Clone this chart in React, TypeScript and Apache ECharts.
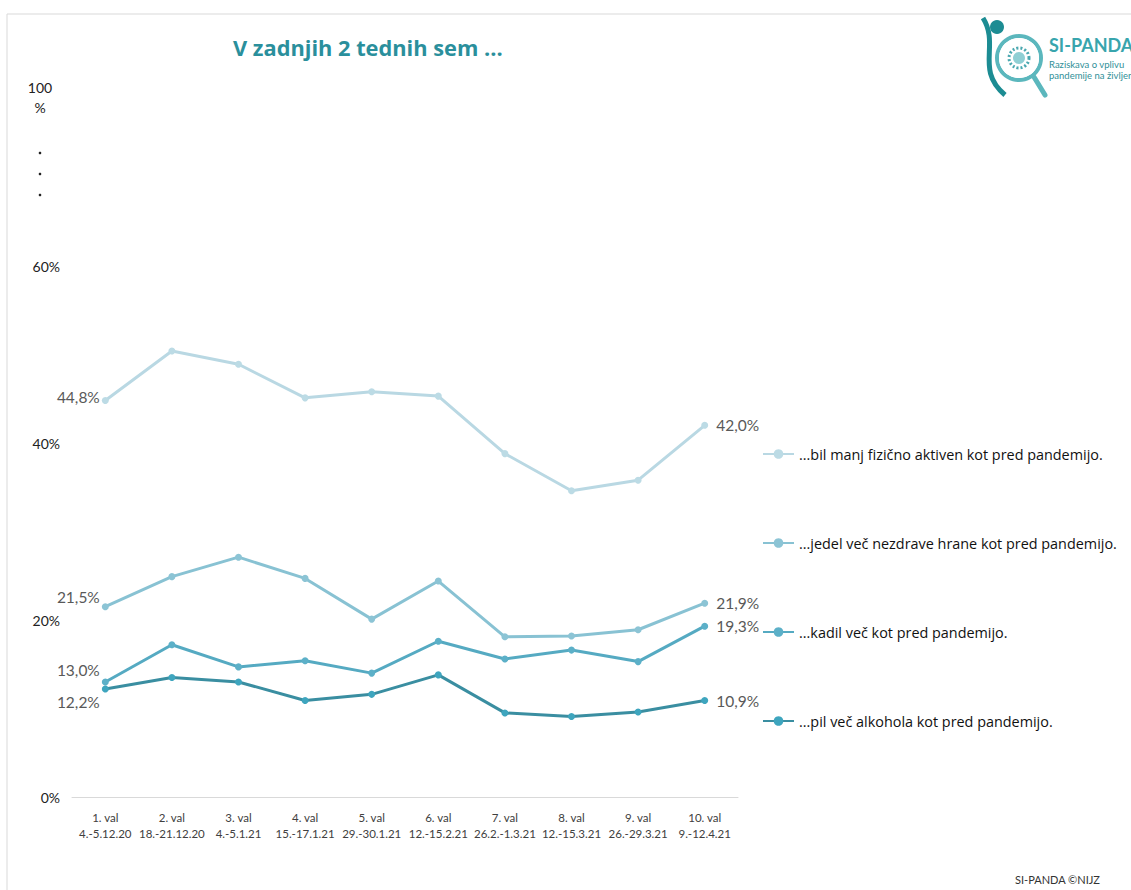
import React, { useEffect, useRef } from "react";
import * as echarts from "echarts";

const categories = [
  "1. val\n4.-5.12.20",
  "2. val\n18.-21.12.20",
  "3. val\n4.-5.1.21",
  "4. val\n15.-17.1.21",
  "5. val\n29.-30.1.21",
  "6. val\n12.-15.2.21",
  "7. val\n26.2.-1.3.21",
  "8. val\n12.-15.3.21",
  "9. val\n26.-29.3.21",
  "10. val\n9.-12.4.21",
];

const seriesNames = [
  "...bil manj fizično aktiven kot pred pandemijo.",
  "...jedel več nezdrave hrane kot pred pandemijo.",
  "...kadil več kot pred pandemijo.",
  "...pil več alkohola kot pred pandemijo.",
];

const physical = [44.8, 50.4, 48.9, 45.1, 45.8, 45.3, 38.8, 34.6, 35.8, 42.0];
const food = [21.5, 24.9, 27.1, 24.7, 20.1, 24.4, 18.1, 18.2, 18.9, 21.9];
const smoking = [13.0, 17.2, 14.7, 15.4, 14.0, 17.6, 15.6, 16.6, 15.3, 19.3];
const alcohol = [12.2, 13.5, 13.0, 10.9, 11.6, 13.8, 9.5, 9.1, 9.6, 10.9];

const yTicks = [0, 20, 40, 60];

const lineColors = ["#b9d8e3", "#88c2d3", "#55aac2", "#3a8ea1"];
const markerColors = ["#bcdbe5", "#8cc4d5", "#5cb0c8", "#3ea5be"];
const firstOffsets = [[0, -4], [0, -10], [0, -12], [0, 13]];

const fmt = (v: number) => v.toFixed(1).replace(".", ",") + "%";

export default function App() {
  const ref = useRef<HTMLDivElement>(null);
  useEffect(() => {
    if (!ref.current) return;
    const chart = echarts.init(ref.current, undefined, { renderer: "svg" });
    const all = [physical, food, smoking, alcohol];
    const font = "Lato, 'Open Sans', sans-serif";
    const font2 = "'Open Sans', Lato, sans-serif";
    const series = all.map((vals, si) => ({
      name: seriesNames[si],
      type: "line",
      symbol: "circle",
      symbolSize: 7,
      lineStyle: { width: 3, color: lineColors[si] },
      itemStyle: { color: markerColors[si] },
      data: vals.map((v, i) => {
        if (i === 0)
          return {
            value: v,
            label: {
              show: true,
              position: "left",
              distance: 2,
              offset: firstOffsets[si],
              formatter: () => fmt(v),
              color: "#595959",
              fontSize: 15.5,
              fontFamily: font,
            },
          };
        if (i === vals.length - 1)
          return {
            value: v,
            label: {
              show: true,
              position: "right",
              distance: 8,
              formatter: () => fmt(v),
              color: "#595959",
              fontSize: 15.5,
              fontFamily: font,
            },
          };
        return v;
      }),
    }));

    chart.setOption({
      animation: false,
      backgroundColor: "#ffffff",
      textStyle: { fontFamily: font },
      grid: { left: 72, right: 393, top: 89, bottom: 93 },
      legend: {
        orient: "vertical",
        left: 757,
        top: 442,
        itemWidth: 31,
        itemHeight: 12,
        itemGap: 75,
        textStyle: { fontSize: 14.4, color: "#111", fontFamily: font2 },
        data: seriesNames,
      },
      xAxis: {
        type: "category",
        data: categories,
        boundaryGap: true,
        axisLine: { show: true, lineStyle: { color: "#d9d9d9", width: 1 } },
        axisTick: { show: false },
        axisLabel: {
          interval: 0,
          color: "#404040",
          fontSize: 11.5,
          lineHeight: 16,
          margin: 12,
          fontFamily: font,
        },
      },
      yAxis: {
        type: "value",
        min: 0,
        max: 80,
        interval: 20,
        splitLine: { show: false },
        axisLine: { show: false },
        axisTick: { show: false },
        axisLabel: {
          color: "#222",
          fontSize: 14,
          margin: 12,
          fontFamily: font,
          formatter: (v: number) => (yTicks.includes(v) ? v + "%" : ""),
        },
      },
      graphic: [
        { type: "line", shape: { x1: 7, y1: 14, x2: 1131, y2: 14 }, style: { stroke: "#d9d9d9", lineWidth: 1 } },
        { type: "line", shape: { x1: 7, y1: 14, x2: 7, y2: 890 }, style: { stroke: "#d9d9d9", lineWidth: 1 } },
        {
          type: "text",
          left: 233,
          top: 36,
          style: { text: "V zadnjih 2 tednih sem ...", fill: "#2a8f9c", fontSize: 21.8, fontWeight: "bold", fontFamily: font2 },
        },
        { type: "text", x: 40, y: 80, style: { text: "100", fill: "#222", fontSize: 14, fontFamily: font, align: "center" } },
        { type: "text", x: 40, y: 100, style: { text: "%", fill: "#222", fontSize: 14, fontFamily: font, align: "center" } },
        { type: "circle", shape: { cx: 40, cy: 153, r: 1.3 }, style: { fill: "#222" } },
        { type: "circle", shape: { cx: 40, cy: 174, r: 1.3 }, style: { fill: "#222" } },
        { type: "circle", shape: { cx: 40, cy: 195, r: 1.3 }, style: { fill: "#222" } },
        // logo
        { type: "circle", shape: { cx: 997, cy: 27, r: 7 }, style: { fill: "#1c8c93" } },
        {
          type: "bezierCurve",
          shape: { x1: 983, y1: 18, x2: 1005, y2: 95, cpx1: 1000, cpy1: 45, cpx2: 975, cpy2: 70 },
          style: { stroke: "#1c8c93", lineWidth: 5, fill: "none" },
        },
        { type: "ring", shape: { cx: 1019, cy: 58, r: 24, r0: 20 }, style: { fill: "#5bb7bd" } },
        { type: "circle", shape: { cx: 1019, cy: 58, r: 20 }, style: { fill: "#ffffff" } },
        { type: "circle", shape: { cx: 1019, cy: 58, r: 10 }, style: { fill: "none", stroke: "#4aa8b0", lineWidth: 3, lineDash: [2, 2] } },
        { type: "circle", shape: { cx: 1019, cy: 58, r: 6 }, style: { fill: "#8fcfd4" } },
        { type: "line", shape: { x1: 1034, y1: 77, x2: 1045, y2: 95 }, style: { stroke: "#5bb7bd", lineWidth: 5, lineCap: "round" } },
        {
          type: "text",
          x: 1049,
          y: 36,
          style: { text: "SI-PANDA", fill: "#38a5ad", fontSize: 18, fontWeight: "bold", fontFamily: font },
        },
        {
          type: "text",
          x: 1049,
          y: 59,
          style: { text: "Raziskava o vplivu", fill: "#2f8f98", fontSize: 9.5, fontFamily: font },
        },
        {
          type: "text",
          x: 1049,
          y: 70,
          style: { text: "pandemije na življenje", fill: "#2f8f98", fontSize: 9.5, fontFamily: font },
        },
        {
          type: "text",
          x: 1015,
          y: 874,
          style: { text: "SI-PANDA ©NIJZ", fill: "#333", fontSize: 11, fontFamily: font },
        },
      ],
      series,
    });
    return () => chart.dispose();
  }, []);
  return (
    <div
      ref={ref}
      style={{ position: "fixed", left: 0, top: 0, width: 1131, height: 890, background: "#fff" }}
    />
  );
}
